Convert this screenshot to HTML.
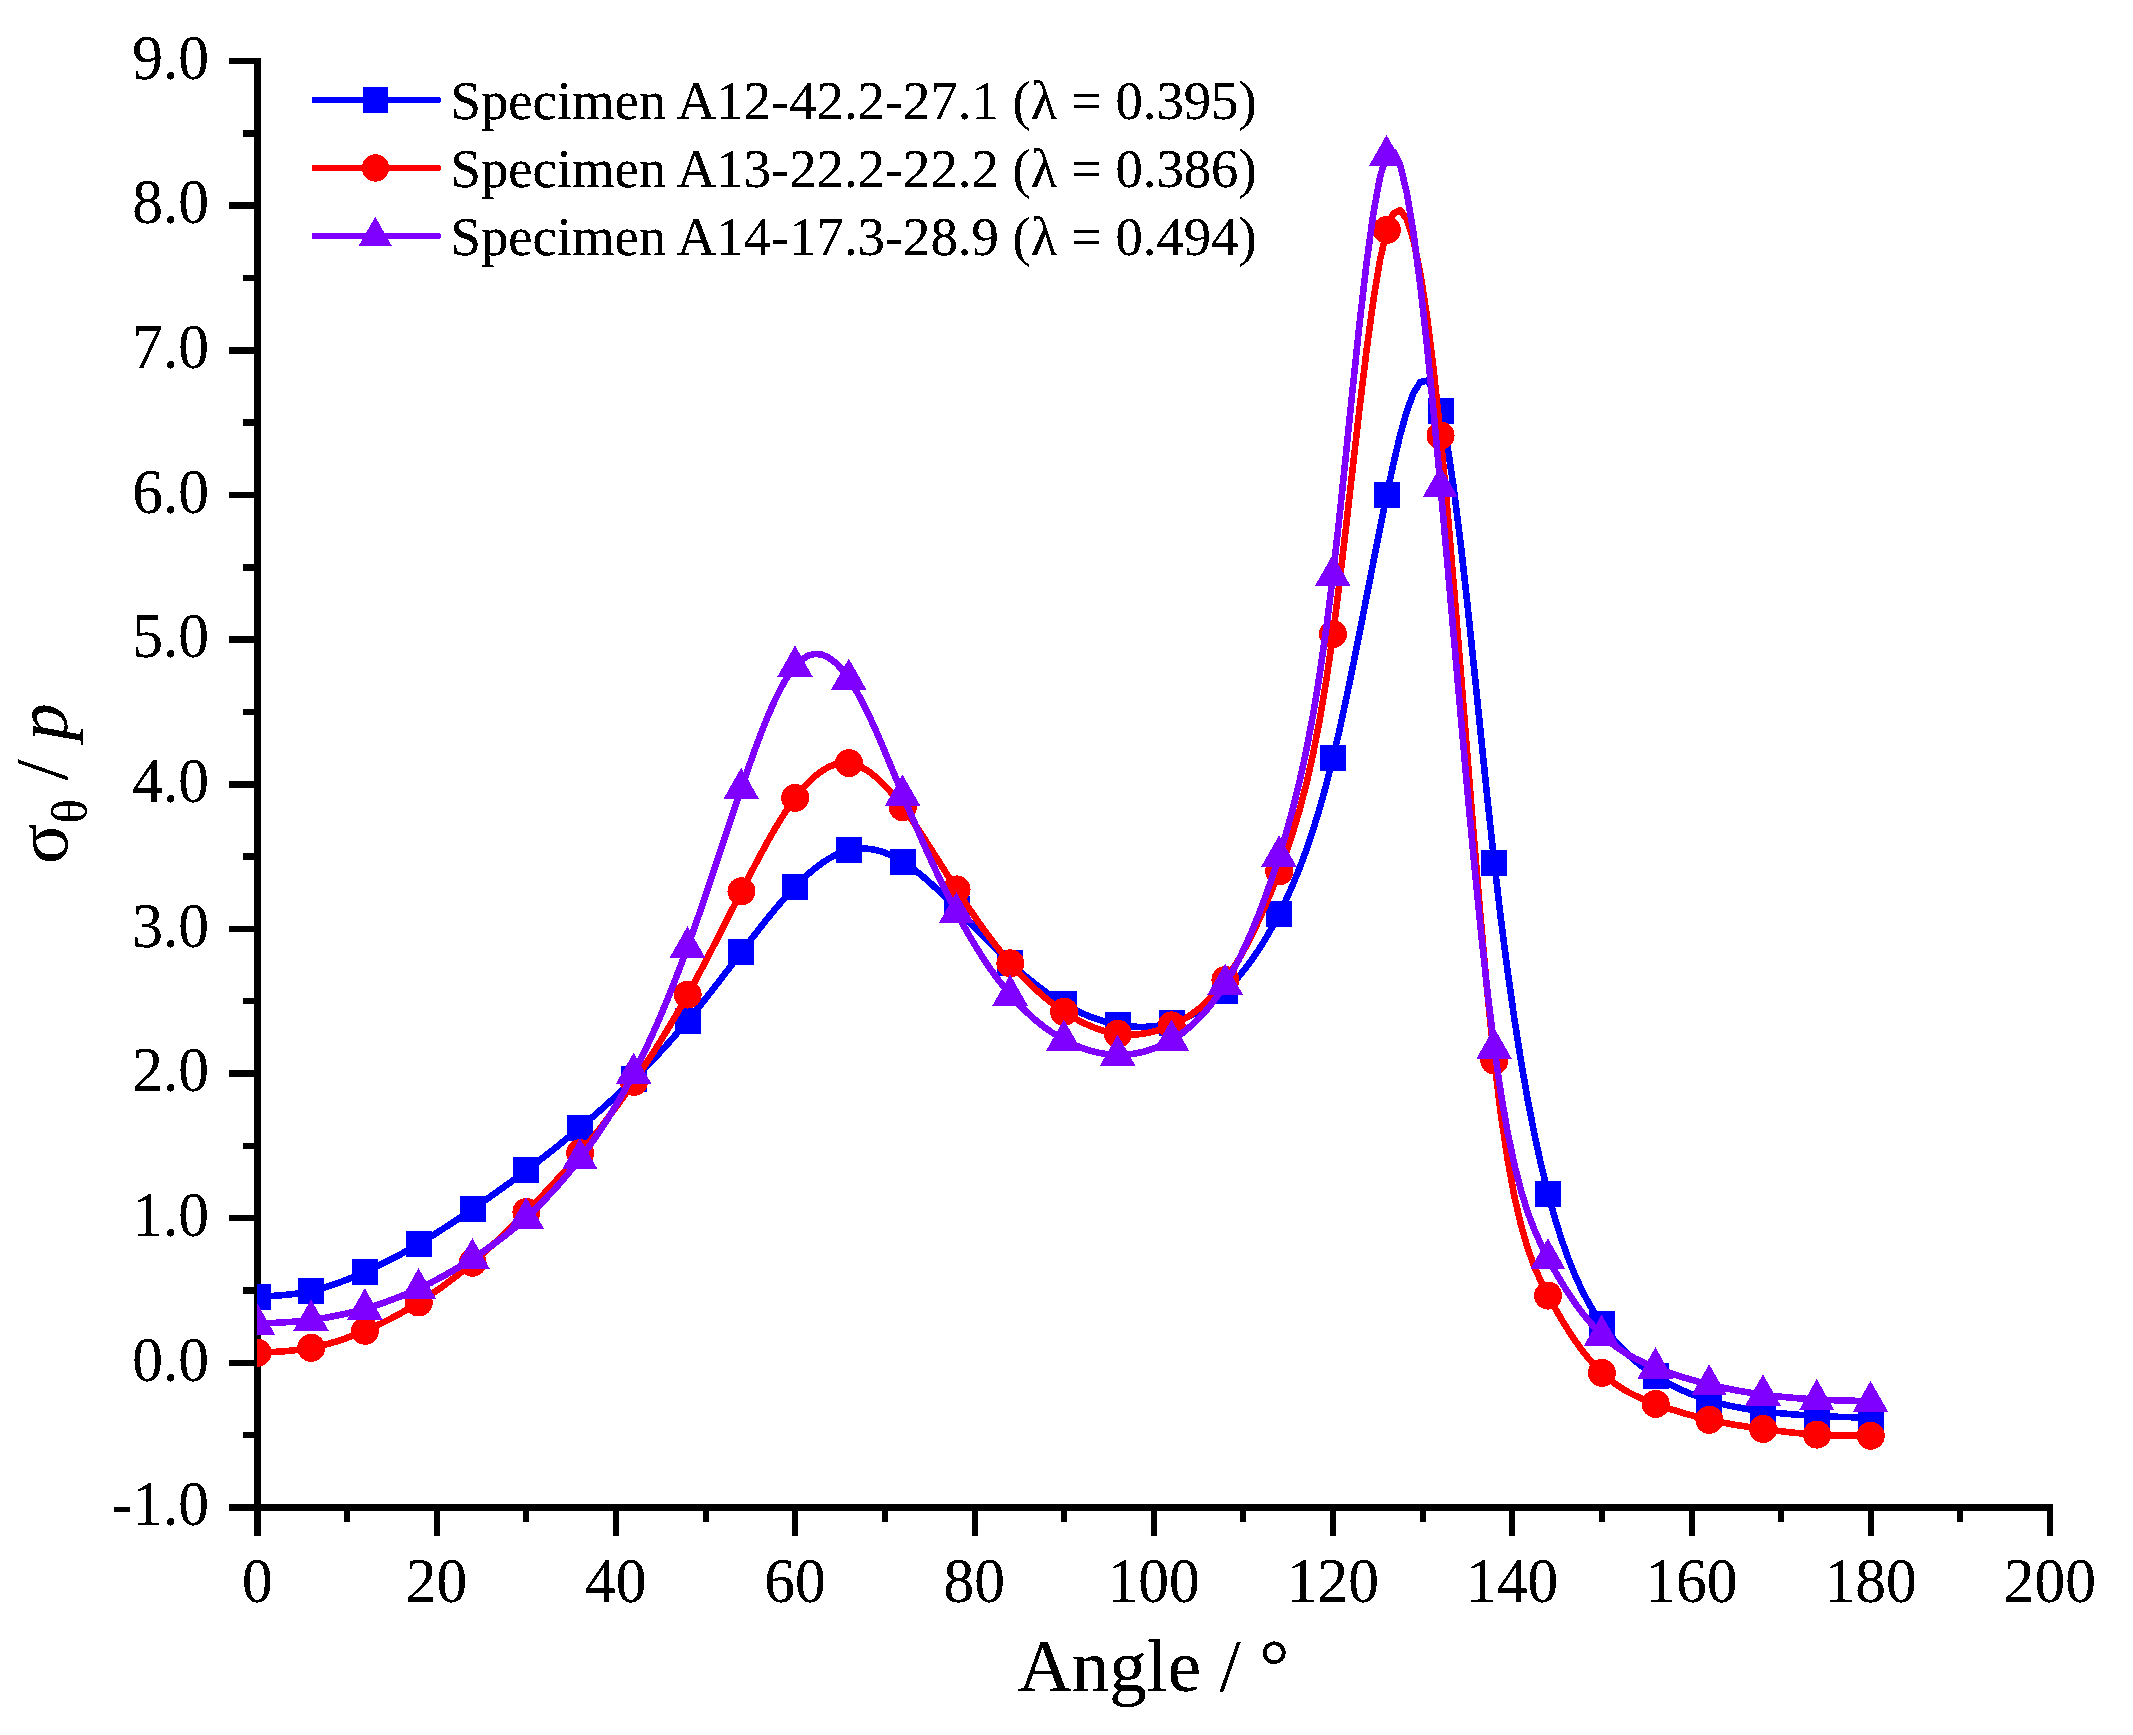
<!DOCTYPE html>
<html lang="en"><head><meta charset="utf-8"><title>Hoop stress distribution</title>
<style>html,body{margin:0;padding:0;background:#fff;}body{width:2133px;height:1735px;overflow:hidden;}svg{display:block;}text{font-family:"Liberation Serif","DejaVu Serif",serif;fill:#000;}</style></head><body>
<svg width="2133" height="1735" viewBox="0 0 2133 1735">
<rect x="0" y="0" width="2133" height="1735" fill="#fff"/>
<defs><filter id="bin" x="-5%" y="-5%" width="110%" height="110%" color-interpolation-filters="sRGB"><feComponentTransfer><feFuncA type="discrete" tableValues="0 0 0 1 1 1 1 1"/></feComponentTransfer></filter></defs>
<g fill="#000" shape-rendering="crispEdges">
<rect x="254" y="58" width="7" height="1478"/>
<rect x="229" y="1504" width="1824" height="7"/>
<rect x="243" y="1431.92" width="11" height="6.5"/>
<rect x="229" y="1359.6" width="25" height="6.5"/>
<rect x="243" y="1287.28" width="11" height="6.5"/>
<rect x="229" y="1214.95" width="25" height="6.5"/>
<rect x="243" y="1142.62" width="11" height="6.5"/>
<rect x="229" y="1070.3" width="25" height="6.5"/>
<rect x="243" y="997.98" width="11" height="6.5"/>
<rect x="229" y="925.65" width="25" height="6.5"/>
<rect x="243" y="853.33" width="11" height="6.5"/>
<rect x="229" y="781" width="25" height="6.5"/>
<rect x="243" y="708.67" width="11" height="6.5"/>
<rect x="229" y="636.35" width="25" height="6.5"/>
<rect x="243" y="564.02" width="11" height="6.5"/>
<rect x="229" y="491.7" width="25" height="6.5"/>
<rect x="243" y="419.38" width="11" height="6.5"/>
<rect x="229" y="347.05" width="25" height="6.5"/>
<rect x="243" y="274.73" width="11" height="6.5"/>
<rect x="229" y="202.4" width="25" height="6.5"/>
<rect x="243" y="130.07" width="11" height="6.5"/>
<rect x="229" y="57.75" width="25" height="6.5"/>
<rect x="344" y="1511" width="6" height="11"/>
<rect x="434" y="1511" width="6" height="25"/>
<rect x="523" y="1511" width="6" height="11"/>
<rect x="613" y="1511" width="6" height="25"/>
<rect x="703" y="1511" width="6" height="11"/>
<rect x="792" y="1511" width="6" height="25"/>
<rect x="882" y="1511" width="6" height="11"/>
<rect x="972" y="1511" width="6" height="25"/>
<rect x="1061" y="1511" width="6" height="11"/>
<rect x="1151" y="1511" width="6" height="25"/>
<rect x="1240" y="1511" width="6" height="11"/>
<rect x="1330" y="1511" width="6" height="25"/>
<rect x="1420" y="1511" width="6" height="11"/>
<rect x="1509" y="1511" width="6" height="25"/>
<rect x="1599" y="1511" width="6" height="11"/>
<rect x="1689" y="1511" width="6" height="25"/>
<rect x="1778" y="1511" width="6" height="11"/>
<rect x="1868" y="1511" width="6" height="25"/>
<rect x="1957" y="1511" width="6" height="11"/>
<rect x="2047" y="1511" width="6" height="25"/>
</g>
<g font-size="63.5" filter="url(#bin)">
<text transform="translate(209,1525.3) scale(0.968,1)" text-anchor="end">-1.0</text>
<text transform="translate(209,1380.65) scale(0.968,1)" text-anchor="end">0.0</text>
<text transform="translate(209,1236) scale(0.968,1)" text-anchor="end">1.0</text>
<text transform="translate(209,1091.35) scale(0.968,1)" text-anchor="end">2.0</text>
<text transform="translate(209,946.7) scale(0.968,1)" text-anchor="end">3.0</text>
<text transform="translate(209,802.05) scale(0.968,1)" text-anchor="end">4.0</text>
<text transform="translate(209,657.4) scale(0.968,1)" text-anchor="end">5.0</text>
<text transform="translate(209,512.75) scale(0.968,1)" text-anchor="end">6.0</text>
<text transform="translate(209,368.1) scale(0.968,1)" text-anchor="end">7.0</text>
<text transform="translate(209,223.45) scale(0.968,1)" text-anchor="end">8.0</text>
<text transform="translate(209,78.8) scale(0.968,1)" text-anchor="end">9.0</text>
<text transform="translate(257.3,1601.5) scale(0.968,1)" text-anchor="middle">0</text>
<text transform="translate(436.55,1601.5) scale(0.968,1)" text-anchor="middle">20</text>
<text transform="translate(615.8,1601.5) scale(0.968,1)" text-anchor="middle">40</text>
<text transform="translate(795.05,1601.5) scale(0.968,1)" text-anchor="middle">60</text>
<text transform="translate(974.3,1601.5) scale(0.968,1)" text-anchor="middle">80</text>
<text transform="translate(1153.55,1601.5) scale(0.968,1)" text-anchor="middle">100</text>
<text transform="translate(1332.8,1601.5) scale(0.968,1)" text-anchor="middle">120</text>
<text transform="translate(1512.05,1601.5) scale(0.968,1)" text-anchor="middle">140</text>
<text transform="translate(1691.3,1601.5) scale(0.968,1)" text-anchor="middle">160</text>
<text transform="translate(1870.55,1601.5) scale(0.968,1)" text-anchor="middle">180</text>
<text transform="translate(2049.8,1601.5) scale(0.968,1)" text-anchor="middle">200</text>
</g>
<text x="1153.5" y="1690.7" font-size="75" text-anchor="middle" filter="url(#bin)">Angle / °</text>
<g transform="translate(67,864) rotate(-90)" filter="url(#bin)"><text x="0" y="0" font-size="75">σ<tspan font-size="51" dy="20">θ</tspan><tspan dy="-20"> / </tspan><tspan font-style="italic">p</tspan></text></g>
<defs><clipPath id="plot"><rect x="257.5" y="58" width="1792.5" height="1449.5"/></clipPath></defs>
<g clip-path="url(#plot)" shape-rendering="crispEdges">
<path d="M257.5,1296.74 L264.22,1296.4 L270.94,1296.01 L277.67,1295.56 L284.39,1295 L291.11,1294.29 L297.83,1293.41 L304.55,1292.31 L311.27,1290.96 L318,1289.33 L324.72,1287.44 L331.44,1285.31 L338.16,1282.96 L344.88,1280.42 L351.61,1277.71 L358.33,1274.85 L365.05,1271.87 L371.77,1268.77 L378.49,1265.58 L385.22,1262.27 L391.94,1258.85 L398.66,1255.31 L405.38,1251.65 L412.1,1247.86 L418.82,1243.95 L425.55,1239.9 L432.27,1235.73 L438.99,1231.46 L445.71,1227.09 L452.43,1222.64 L459.16,1218.12 L465.88,1213.55 L472.6,1208.94 L479.32,1204.3 L486.04,1199.63 L492.77,1194.91 L499.49,1190.14 L506.21,1185.32 L512.93,1180.44 L519.65,1175.49 L526.38,1170.47 L533.1,1165.36 L539.82,1160.17 L546.54,1154.9 L553.26,1149.56 L559.98,1144.15 L566.71,1138.67 L573.43,1133.12 L580.15,1127.5 L586.87,1121.83 L593.59,1116.07 L600.32,1110.23 L607.04,1104.28 L613.76,1098.22 L620.48,1092.03 L627.2,1085.69 L633.92,1079.19 L640.65,1072.52 L647.37,1065.68 L654.09,1058.66 L660.81,1051.46 L667.53,1044.07 L674.26,1036.49 L680.98,1028.72 L687.7,1020.75 L694.42,1012.59 L701.14,1004.25 L707.87,995.77 L714.59,987.16 L721.31,978.46 L728.03,969.69 L734.75,960.88 L741.48,952.04 L748.2,943.23 L754.92,934.47 L761.64,925.84 L768.36,917.39 L775.08,909.17 L781.81,901.25 L788.53,893.68 L795.25,886.52 L801.97,879.82 L808.69,873.63 L815.42,868 L822.14,862.99 L828.86,858.64 L835.58,855.01 L842.3,852.13 L849.02,850.07 L855.75,848.85 L862.47,848.46 L869.19,848.86 L875.91,850.02 L882.63,851.92 L889.36,854.51 L896.08,857.76 L902.8,861.64 L909.52,866.11 L916.24,871.11 L922.97,876.58 L929.69,882.45 L936.41,888.66 L943.13,895.14 L949.85,901.82 L956.58,908.65 L963.3,915.55 L970.02,922.5 L976.74,929.44 L983.46,936.34 L990.18,943.16 L996.91,949.86 L1003.63,956.4 L1010.35,962.75 L1017.07,968.86 L1023.79,974.73 L1030.52,980.33 L1037.24,985.66 L1043.96,990.71 L1050.68,995.45 L1057.4,999.87 L1064.12,1003.97 L1070.85,1007.74 L1077.57,1011.16 L1084.29,1014.24 L1091.01,1016.99 L1097.73,1019.41 L1104.46,1021.49 L1111.18,1023.24 L1117.9,1024.66 L1124.62,1025.74 L1131.34,1026.48 L1138.07,1026.86 L1144.79,1026.86 L1151.51,1026.47 L1158.23,1025.67 L1164.95,1024.45 L1171.67,1022.78 L1178.4,1020.65 L1185.12,1018.04 L1191.84,1014.92 L1198.56,1011.26 L1205.28,1007.03 L1212.01,1002.2 L1218.73,996.76 L1225.45,990.67 L1232.17,983.89 L1238.89,976.4 L1245.62,968.14 L1252.34,959.07 L1259.06,949.16 L1265.78,938.34 L1272.5,926.59 L1279.22,913.86 L1285.95,900.07 L1292.67,885.06 L1299.39,868.62 L1306.11,850.55 L1312.83,830.67 L1319.56,808.76 L1326.28,784.62 L1333,758.07 L1339.72,729.01 L1346.44,697.84 L1353.17,665.07 L1359.89,631.2 L1366.61,596.74 L1373.33,562.21 L1380.05,528.11 L1386.78,494.95 L1393.5,463.41 L1400.22,434.83 L1406.94,410.74 L1413.66,392.65 L1420.38,382.07 L1427.11,380.53 L1433.83,389.54 L1440.55,410.62 L1447.27,444.63 L1453.99,489.85 L1460.72,543.88 L1467.44,604.35 L1474.16,668.88 L1480.88,735.07 L1487.6,800.55 L1494.33,862.94 L1501.05,920.29 L1507.77,972.47 L1514.49,1019.77 L1521.21,1062.49 L1527.93,1100.93 L1534.66,1135.4 L1541.38,1166.19 L1548.1,1193.61 L1554.82,1217.95 L1561.54,1239.47 L1568.27,1258.44 L1574.99,1275.11 L1581.71,1289.75 L1588.43,1302.62 L1595.15,1313.98 L1601.88,1324.08 L1608.6,1333.17 L1615.32,1341.34 L1622.04,1348.68 L1628.76,1355.28 L1635.48,1361.22 L1642.21,1366.57 L1648.93,1371.43 L1655.65,1375.87 L1662.37,1379.96 L1669.09,1383.73 L1675.82,1387.2 L1682.54,1390.38 L1689.26,1393.28 L1695.98,1395.91 L1702.7,1398.3 L1709.42,1400.46 L1716.15,1402.4 L1722.87,1404.13 L1729.59,1405.69 L1736.31,1407.07 L1743.03,1408.31 L1749.76,1409.42 L1756.48,1410.41 L1763.2,1411.31 L1769.92,1412.12 L1776.64,1412.86 L1783.37,1413.53 L1790.09,1414.13 L1796.81,1414.67 L1803.53,1415.15 L1810.25,1415.57 L1816.97,1415.94 L1823.7,1416.26 L1830.42,1416.54 L1837.14,1416.78 L1843.86,1417 L1850.58,1417.19 L1857.31,1417.36 L1864.03,1417.52 L1870.75,1417.67" fill="none" stroke="#0000ff" stroke-width="6.6" stroke-linejoin="round" stroke-linecap="round"/>
<g fill="#0000ff">
<rect x="244.5" y="1283.74" width="26" height="26"/><rect x="298.27" y="1277.96" width="26" height="26"/><rect x="352.05" y="1258.87" width="26" height="26"/><rect x="405.82" y="1230.95" width="26" height="26"/><rect x="459.6" y="1195.94" width="26" height="26"/><rect x="513.38" y="1157.47" width="26" height="26"/><rect x="567.15" y="1114.5" width="26" height="26"/><rect x="620.92" y="1066.19" width="26" height="26"/><rect x="674.7" y="1007.75" width="26" height="26"/><rect x="728.48" y="939.04" width="26" height="26"/><rect x="782.25" y="873.52" width="26" height="26"/><rect x="836.02" y="837.07" width="26" height="26"/><rect x="889.8" y="848.64" width="26" height="26"/><rect x="943.58" y="895.65" width="26" height="26"/><rect x="997.35" y="949.75" width="26" height="26"/><rect x="1051.12" y="990.97" width="26" height="26"/><rect x="1104.9" y="1011.66" width="26" height="26"/><rect x="1158.67" y="1009.78" width="26" height="26"/><rect x="1212.45" y="977.67" width="26" height="26"/><rect x="1266.22" y="900.86" width="26" height="26"/><rect x="1320" y="745.07" width="26" height="26"/><rect x="1373.78" y="481.95" width="26" height="26"/><rect x="1427.55" y="397.62" width="26" height="26"/><rect x="1481.33" y="849.94" width="26" height="26"/><rect x="1535.1" y="1180.61" width="26" height="26"/><rect x="1588.88" y="1311.08" width="26" height="26"/><rect x="1642.65" y="1362.87" width="26" height="26"/><rect x="1696.42" y="1387.46" width="26" height="26"/><rect x="1750.2" y="1398.31" width="26" height="26"/><rect x="1803.97" y="1402.94" width="26" height="26"/><rect x="1857.75" y="1404.67" width="26" height="26"/>
</g>
<path d="M257.5,1352.72 L264.22,1352.43 L270.94,1352.11 L277.67,1351.73 L284.39,1351.25 L291.11,1350.65 L297.83,1349.9 L304.55,1348.96 L311.27,1347.81 L318,1346.41 L324.72,1344.78 L331.44,1342.93 L338.16,1340.87 L344.88,1338.61 L351.61,1336.16 L358.33,1333.53 L365.05,1330.74 L371.77,1327.79 L378.49,1324.69 L385.22,1321.42 L391.94,1317.99 L398.66,1314.39 L405.38,1310.62 L412.1,1306.66 L418.82,1302.53 L425.55,1298.21 L432.27,1293.71 L438.99,1289.02 L445.71,1284.14 L452.43,1279.07 L459.16,1273.82 L465.88,1268.38 L472.6,1262.75 L479.32,1256.94 L486.04,1250.95 L492.77,1244.79 L499.49,1238.48 L506.21,1232.03 L512.93,1225.46 L519.65,1218.77 L526.38,1211.98 L533.1,1205.09 L539.82,1198.1 L546.54,1190.99 L553.26,1183.74 L559.98,1176.35 L566.71,1168.79 L573.43,1161.04 L580.15,1153.11 L586.87,1144.96 L593.59,1136.61 L600.32,1128.03 L607.04,1119.24 L613.76,1110.22 L620.48,1100.98 L627.2,1091.5 L633.92,1081.8 L640.65,1071.85 L647.37,1061.65 L654.09,1051.19 L660.81,1040.46 L667.53,1029.45 L674.26,1018.14 L680.98,1006.51 L687.7,994.57 L694.42,982.31 L701.14,969.76 L707.87,956.97 L714.59,944.01 L721.31,930.9 L728.03,917.72 L734.75,904.5 L741.48,891.29 L748.2,878.16 L754.92,865.21 L761.64,852.56 L768.36,840.32 L775.08,828.62 L781.81,817.56 L788.53,807.26 L795.25,797.85 L801.97,789.42 L808.69,782.05 L815.42,775.79 L822.14,770.69 L828.86,766.82 L835.58,764.24 L842.3,762.99 L849.02,763.13 L855.75,764.7 L862.47,767.61 L869.19,771.76 L875.91,777.04 L882.63,783.33 L889.36,790.54 L896.08,798.55 L902.8,807.25 L909.52,816.54 L916.24,826.31 L922.97,836.47 L929.69,846.9 L936.41,857.52 L943.13,868.21 L949.85,878.87 L956.58,889.41 L963.3,899.73 L970.02,909.8 L976.74,919.58 L983.46,929.06 L990.18,938.2 L996.91,946.97 L1003.63,955.36 L1010.35,963.33 L1017.07,970.86 L1023.79,977.95 L1030.52,984.62 L1037.24,990.87 L1043.96,996.7 L1050.68,1002.12 L1057.4,1007.15 L1064.12,1011.78 L1070.85,1016.03 L1077.57,1019.88 L1084.29,1023.31 L1091.01,1026.32 L1097.73,1028.88 L1104.46,1030.99 L1111.18,1032.62 L1117.9,1033.77 L1124.62,1034.42 L1131.34,1034.58 L1138.07,1034.24 L1144.79,1033.42 L1151.51,1032.12 L1158.23,1030.34 L1164.95,1028.1 L1171.67,1025.38 L1178.4,1022.19 L1185.12,1018.46 L1191.84,1014.1 L1198.56,1009.03 L1205.28,1003.16 L1212.01,996.42 L1218.73,988.71 L1225.45,979.96 L1232.17,970.1 L1238.89,959.13 L1245.62,947.08 L1252.34,933.97 L1259.06,919.82 L1265.78,904.64 L1272.5,888.47 L1279.22,871.33 L1285.95,853.1 L1292.67,833.15 L1299.39,810.7 L1306.11,784.99 L1312.83,755.24 L1319.56,720.7 L1326.28,680.57 L1333,634.1 L1339.72,581.08 L1346.44,523.56 L1353.17,464.14 L1359.89,405.43 L1366.61,350.05 L1373.33,300.6 L1380.05,259.7 L1386.78,229.95 L1393.5,213.44 L1400.22,210.12 L1406.94,219.43 L1413.66,240.8 L1420.38,273.66 L1427.11,317.44 L1433.83,371.58 L1440.55,435.5 L1447.27,508.3 L1453.99,587.76 L1460.72,671.3 L1467.44,756.38 L1474.16,840.41 L1480.88,920.85 L1487.6,995.13 L1494.33,1060.68 L1501.05,1115.59 L1507.77,1160.54 L1514.49,1196.86 L1521.21,1225.88 L1527.93,1248.94 L1534.66,1267.36 L1541.38,1282.46 L1548.1,1295.59 L1554.82,1307.84 L1561.54,1319.41 L1568.27,1330.27 L1574.99,1340.38 L1581.71,1349.73 L1588.43,1358.27 L1595.15,1365.98 L1601.88,1372.83 L1608.6,1378.81 L1615.32,1383.99 L1622.04,1388.47 L1628.76,1392.36 L1635.48,1395.75 L1642.21,1398.74 L1648.93,1401.44 L1655.65,1403.93 L1662.37,1406.31 L1669.09,1408.58 L1675.82,1410.75 L1682.54,1412.8 L1689.26,1414.74 L1695.98,1416.56 L1702.7,1418.27 L1709.42,1419.84 L1716.15,1421.29 L1722.87,1422.63 L1729.59,1423.86 L1736.31,1425.01 L1743.03,1426.08 L1749.76,1427.08 L1756.48,1428.04 L1763.2,1428.96 L1769.92,1429.84 L1776.64,1430.7 L1783.37,1431.51 L1790.09,1432.27 L1796.81,1432.97 L1803.53,1433.59 L1810.25,1434.14 L1816.97,1434.6 L1823.7,1434.96 L1830.42,1435.23 L1837.14,1435.43 L1843.86,1435.57 L1850.58,1435.66 L1857.31,1435.71 L1864.03,1435.74 L1870.75,1435.75" fill="none" stroke="#ff0000" stroke-width="6.6" stroke-linejoin="round" stroke-linecap="round"/>
<g fill="#ff0000">
<circle cx="257.5" cy="1352.72" r="14"/><circle cx="311.27" cy="1347.81" r="14"/><circle cx="365.05" cy="1330.74" r="14"/><circle cx="418.82" cy="1302.53" r="14"/><circle cx="472.6" cy="1262.75" r="14"/><circle cx="526.38" cy="1211.98" r="14"/><circle cx="580.15" cy="1153.11" r="14"/><circle cx="633.92" cy="1081.8" r="14"/><circle cx="687.7" cy="994.57" r="14"/><circle cx="741.48" cy="891.29" r="14"/><circle cx="795.25" cy="797.85" r="14"/><circle cx="849.02" cy="763.13" r="14"/><circle cx="902.8" cy="807.25" r="14"/><circle cx="956.58" cy="889.41" r="14"/><circle cx="1010.35" cy="963.33" r="14"/><circle cx="1064.12" cy="1011.78" r="14"/><circle cx="1117.9" cy="1033.77" r="14"/><circle cx="1171.67" cy="1025.38" r="14"/><circle cx="1225.45" cy="979.96" r="14"/><circle cx="1279.22" cy="871.33" r="14"/><circle cx="1333" cy="634.1" r="14"/><circle cx="1386.78" cy="229.95" r="14"/><circle cx="1440.55" cy="435.5" r="14"/><circle cx="1494.33" cy="1060.68" r="14"/><circle cx="1548.1" cy="1295.59" r="14"/><circle cx="1601.88" cy="1372.83" r="14"/><circle cx="1655.65" cy="1403.93" r="14"/><circle cx="1709.42" cy="1419.84" r="14"/><circle cx="1763.2" cy="1428.96" r="14"/><circle cx="1816.97" cy="1434.6" r="14"/><circle cx="1870.75" cy="1435.75" r="14"/>
</g>
<path d="M257.5,1323.65 L264.22,1323.37 L270.94,1323.07 L277.67,1322.73 L284.39,1322.34 L291.11,1321.88 L297.83,1321.33 L304.55,1320.67 L311.27,1319.89 L318,1318.96 L324.72,1317.9 L331.44,1316.69 L338.16,1315.34 L344.88,1313.86 L351.61,1312.24 L358.33,1310.49 L365.05,1308.61 L371.77,1306.59 L378.49,1304.44 L385.22,1302.15 L391.94,1299.72 L398.66,1297.15 L405.38,1294.42 L412.1,1291.54 L418.82,1288.5 L425.55,1285.3 L432.27,1281.94 L438.99,1278.42 L445.71,1274.75 L452.43,1270.92 L459.16,1266.95 L465.88,1262.82 L472.6,1258.56 L479.32,1254.14 L486.04,1249.57 L492.77,1244.81 L499.49,1239.86 L506.21,1234.68 L512.93,1229.26 L519.65,1223.58 L526.38,1217.62 L533.1,1211.37 L539.82,1204.8 L546.54,1197.92 L553.26,1190.71 L559.98,1183.17 L566.71,1175.29 L573.43,1167.05 L580.15,1158.46 L586.87,1149.49 L593.59,1140.11 L600.32,1130.28 L607.04,1119.97 L613.76,1109.12 L620.48,1097.69 L627.2,1085.66 L633.92,1072.97 L640.65,1059.6 L647.37,1045.53 L654.09,1030.77 L660.81,1015.32 L667.53,999.19 L674.26,982.37 L680.98,964.87 L687.7,946.69 L694.42,927.85 L701.14,908.47 L707.87,888.66 L714.59,868.57 L721.31,848.33 L728.03,828.07 L734.75,807.92 L741.48,788.01 L748.2,768.5 L754.92,749.64 L761.64,731.72 L768.36,715.01 L775.08,699.8 L781.81,686.36 L788.53,674.97 L795.25,665.93 L801.97,659.43 L808.69,655.46 L815.42,653.9 L822.14,654.66 L828.86,657.65 L835.58,662.76 L842.3,669.89 L849.02,678.94 L855.75,689.8 L862.47,702.22 L869.19,715.95 L875.91,730.71 L882.63,746.26 L889.36,762.32 L896.08,778.64 L902.8,794.95 L909.52,811.04 L916.24,826.81 L922.97,842.23 L929.69,857.25 L936.41,871.84 L943.13,885.95 L949.85,899.53 L956.58,912.55 L963.3,924.98 L970.02,936.79 L976.74,948 L983.46,958.59 L990.18,968.58 L996.91,977.95 L1003.63,986.71 L1010.35,994.86 L1017.07,1002.4 L1023.79,1009.34 L1030.52,1015.72 L1037.24,1021.55 L1043.96,1026.85 L1050.68,1031.65 L1057.4,1035.98 L1064.12,1039.85 L1070.85,1043.28 L1077.57,1046.27 L1084.29,1048.83 L1091.01,1050.94 L1097.73,1052.61 L1104.46,1053.82 L1111.18,1054.58 L1117.9,1054.89 L1124.62,1054.74 L1131.34,1054.11 L1138.07,1053 L1144.79,1051.4 L1151.51,1049.3 L1158.23,1046.68 L1164.95,1043.53 L1171.67,1039.85 L1178.4,1035.6 L1185.12,1030.73 L1191.84,1025.14 L1198.56,1018.77 L1205.28,1011.52 L1212.01,1003.32 L1218.73,994.08 L1225.45,983.72 L1232.17,972.18 L1238.89,959.42 L1245.62,945.41 L1252.34,930.13 L1259.06,913.56 L1265.78,895.67 L1272.5,876.44 L1279.22,855.85 L1285.95,833.75 L1292.67,809.48 L1299.39,782.27 L1306.11,751.34 L1312.83,715.92 L1319.56,675.23 L1326.28,628.5 L1333,574.94 L1339.72,514.47 L1346.44,449.69 L1353.17,383.91 L1359.89,320.41 L1366.61,262.51 L1373.33,213.5 L1380.05,176.67 L1386.78,155.31 L1393.5,151.85 L1400.22,165.19 L1406.94,193.32 L1413.66,234.28 L1420.38,286.07 L1427.11,346.7 L1433.83,414.19 L1440.55,486.56 L1447.27,561.9 L1453.99,638.68 L1460.72,715.44 L1467.44,790.72 L1474.16,863.06 L1480.88,931.02 L1487.6,993.13 L1494.33,1047.95 L1501.05,1094.42 L1507.77,1133.13 L1514.49,1165.09 L1521.21,1191.3 L1527.93,1212.75 L1534.66,1230.44 L1541.38,1245.38 L1548.1,1258.56 L1554.82,1270.81 L1561.54,1282.3 L1568.27,1293.02 L1574.99,1302.97 L1581.71,1312.14 L1588.43,1320.53 L1595.15,1328.13 L1601.88,1334.93 L1608.6,1340.95 L1615.32,1346.26 L1622.04,1350.93 L1628.76,1355.05 L1635.48,1358.7 L1642.21,1361.95 L1648.93,1364.9 L1655.65,1367.62 L1662.37,1370.19 L1669.09,1372.61 L1675.82,1374.91 L1682.54,1377.07 L1689.26,1379.11 L1695.98,1381.03 L1702.7,1382.84 L1709.42,1384.55 L1716.15,1386.15 L1722.87,1387.65 L1729.59,1389.06 L1736.31,1390.37 L1743.03,1391.58 L1749.76,1392.7 L1756.48,1393.73 L1763.2,1394.67 L1769.92,1395.53 L1776.64,1396.3 L1783.37,1396.99 L1790.09,1397.61 L1796.81,1398.16 L1803.53,1398.64 L1810.25,1399.07 L1816.97,1399.45 L1823.7,1399.77 L1830.42,1400.05 L1837.14,1400.3 L1843.86,1400.51 L1850.58,1400.7 L1857.31,1400.87 L1864.03,1401.03 L1870.75,1401.18" fill="none" stroke="#8000ff" stroke-width="6.6" stroke-linejoin="round" stroke-linecap="round"/>
<g fill="#8000ff">
<polygon points="257.25,1303.25 275,1334.55 239.5,1334.55"/><polygon points="311.02,1299.49 328.77,1330.79 293.27,1330.79"/><polygon points="364.8,1288.21 382.55,1319.51 347.05,1319.51"/><polygon points="418.57,1268.1 436.32,1299.4 400.82,1299.4"/><polygon points="472.35,1238.16 490.1,1269.46 454.6,1269.46"/><polygon points="526.12,1197.22 543.88,1228.52 508.38,1228.52"/><polygon points="579.9,1138.06 597.65,1169.36 562.15,1169.36"/><polygon points="633.67,1052.57 651.42,1083.87 615.92,1083.87"/><polygon points="687.45,926.29 705.2,957.59 669.7,957.59"/><polygon points="741.23,767.61 758.98,798.91 723.48,798.91"/><polygon points="795,645.53 812.75,676.83 777.25,676.83"/><polygon points="848.77,658.54 866.52,689.84 831.02,689.84"/><polygon points="902.55,774.55 920.3,805.85 884.8,805.85"/><polygon points="956.33,892.15 974.08,923.45 938.58,923.45"/><polygon points="1010.1,974.46 1027.85,1005.76 992.35,1005.76"/><polygon points="1063.88,1019.45 1081.62,1050.75 1046.12,1050.75"/><polygon points="1117.65,1034.49 1135.4,1065.79 1099.9,1065.79"/><polygon points="1171.42,1019.45 1189.17,1050.75 1153.67,1050.75"/><polygon points="1225.2,963.32 1242.95,994.62 1207.45,994.62"/><polygon points="1278.97,835.45 1296.72,866.75 1261.22,866.75"/><polygon points="1332.75,554.54 1350.5,585.84 1315,585.84"/><polygon points="1386.53,134.91 1404.28,166.21 1368.78,166.21"/><polygon points="1440.3,466.16 1458.05,497.46 1422.55,497.46"/><polygon points="1494.08,1027.55 1511.83,1058.85 1476.33,1058.85"/><polygon points="1547.85,1238.16 1565.6,1269.46 1530.1,1269.46"/><polygon points="1601.62,1314.53 1619.38,1345.83 1583.88,1345.83"/><polygon points="1655.4,1347.22 1673.15,1378.52 1637.65,1378.52"/><polygon points="1709.17,1364.15 1726.92,1395.45 1691.42,1395.45"/><polygon points="1762.95,1374.27 1780.7,1405.57 1745.2,1405.57"/><polygon points="1816.72,1379.05 1834.47,1410.35 1798.97,1410.35"/><polygon points="1870.5,1380.78 1888.25,1412.08 1852.75,1412.08"/>
</g>
</g>
<g fill="#0000ff" shape-rendering="crispEdges"><rect x="311.5" y="96.9" width="129" height="6.2" rx="1"/><rect x="362.75" y="87.25" width="25.5" height="25.5"/></g>
<text x="450.5" y="118.6" font-size="54.7" filter="url(#bin)">Specimen A12-42.2-27.1 (λ = 0.395)</text>
<g fill="#ff0000" shape-rendering="crispEdges"><rect x="311.5" y="164.9" width="129" height="6.2" rx="1"/><circle cx="375.5" cy="168" r="13.7"/></g>
<text x="450.5" y="186.8" font-size="54.7" filter="url(#bin)">Specimen A13-22.2-22.2 (λ = 0.386)</text>
<g fill="#8000ff" shape-rendering="crispEdges"><rect x="311.5" y="232.9" width="129" height="6.2" rx="1"/><polygon points="375.25,216.73 392.03,246.29 358.5,246.29"/></g>
<text x="450.5" y="255" font-size="54.7" filter="url(#bin)">Specimen A14-17.3-28.9 (λ = 0.494)</text>
</svg></body></html>
